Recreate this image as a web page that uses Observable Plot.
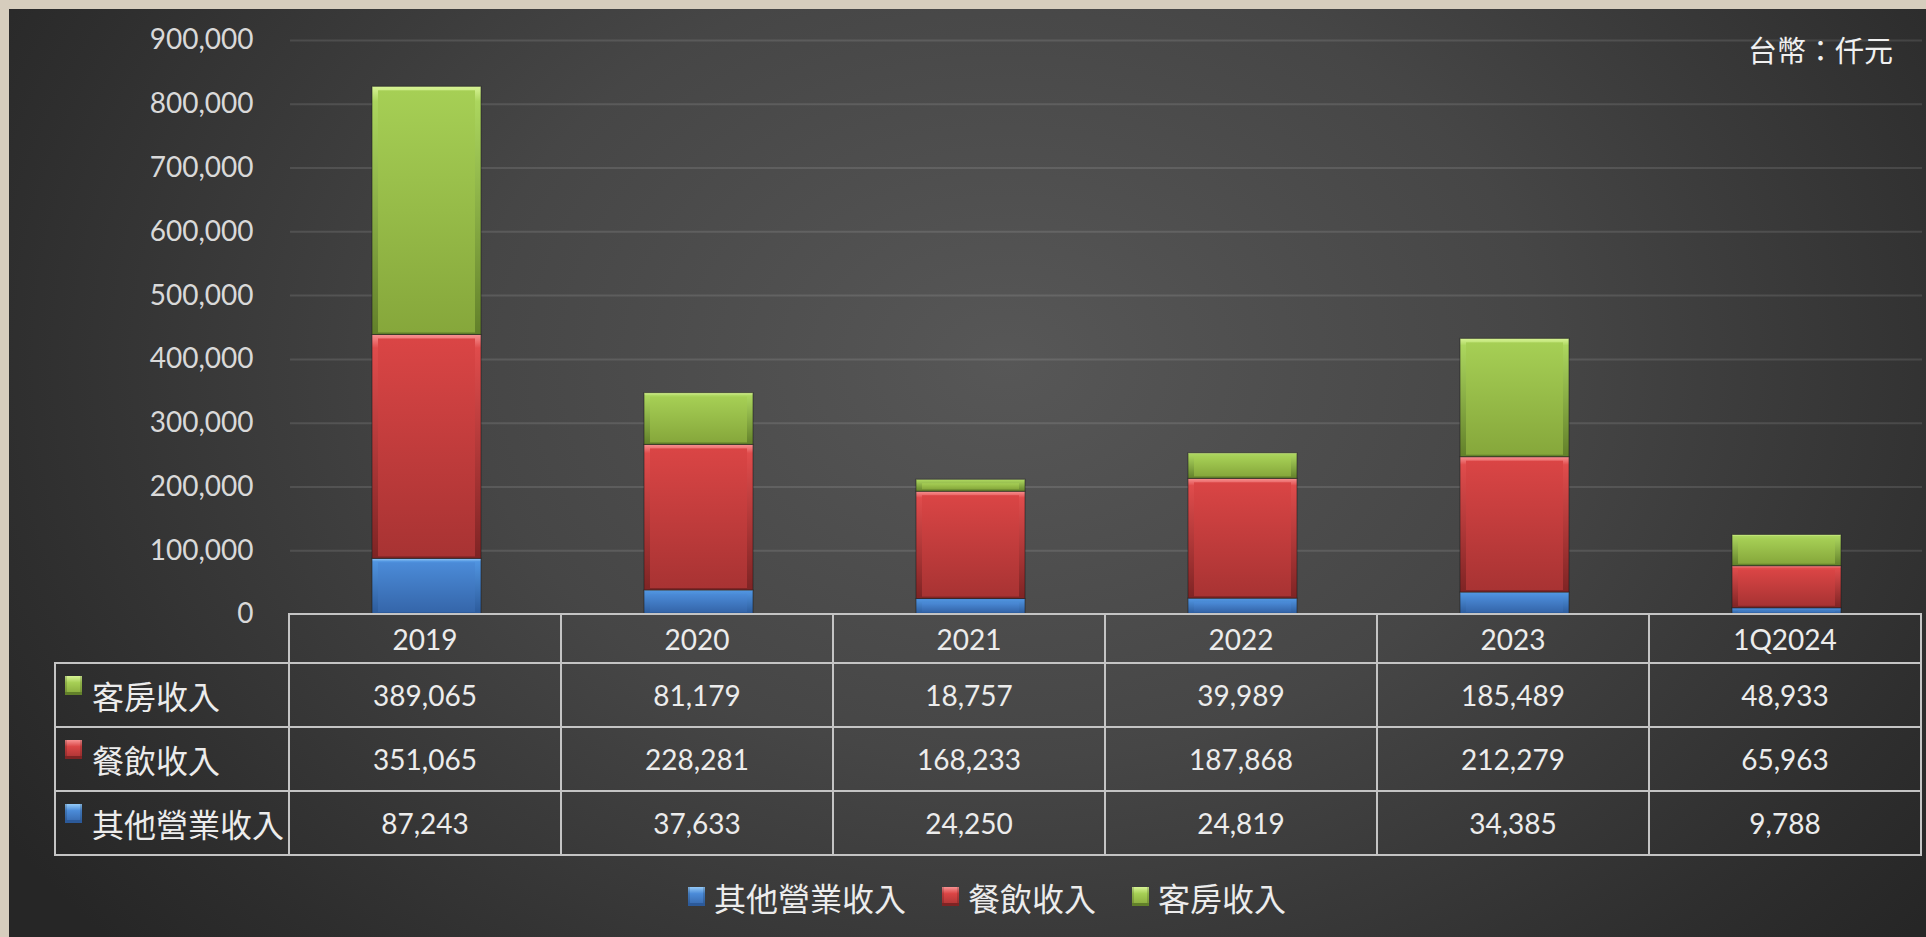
<!DOCTYPE html>
<html>
<head>
<meta charset="utf-8">
<script src="https://cdn.jsdelivr.net/npm/d3@7"></script>
<script src="https://cdn.jsdelivr.net/npm/@observablehq/plot@0.6"></script>
<style>
  html, body { margin: 0; padding: 0; }
  body { width: 1926px; height: 937px; background: #d6cdbd; position: relative; overflow: hidden; font-family: Lato, "Noto Sans CJK TC", sans-serif; }
  #frame { position: absolute; left: 9px; top: 9px; width: 1917px; height: 928px;
    background: radial-gradient(ellipse 62% 95% at 52% 38%, #575757 0%, #464646 45%, #2e2e2e 85%, #262626 100%); }
  #chart { position: absolute; left: 0; top: 0; }
  #unit { position: absolute; right: 33px; top: 29px; font-family: "Noto Sans CJK TC", sans-serif; font-size: 29px; color: #f0f0f0; line-height: 40px; }
  #table { position: absolute; left: 54px; top: 613px; display: grid;
    grid-template-columns: 236px repeat(6, 272px); grid-template-rows: 51px 64px 64px 64px; }
  .cell { box-sizing: border-box; border-right: 2px solid #c4c4c4; border-bottom: 2px solid #c4c4c4;
    display: flex; align-items: center; justify-content: center; color: #ececec; font-family: Lato, sans-serif; font-size: 28px; }
  .hdr { border-top: 2px solid #c4c4c4; }
  .corner { border-bottom: 2px solid #c4c4c4; border-right: 2px solid #c4c4c4; }
  .lab { border-left: 2px solid #c4c4c4; justify-content: flex-start; position: relative;
    font-family: "Noto Sans CJK TC", sans-serif; font-size: 32px; padding-left: 36px; white-space: nowrap; }
  .mk { position: absolute; width: 17px; height: 19px; box-sizing: border-box; }
  .lab .mk { left: 9px; top: 12px; }
  #legend { position: absolute; left: 688px; top: 876px; display: flex; align-items: center;
    font-family: "Noto Sans CJK TC", sans-serif; font-size: 32px; color: #ececec; line-height: 42px; white-space: nowrap; }
  #legend .item { display: flex; align-items: center; margin-right: 36px; }
  #legend .mk { position: relative; margin-right: 9px; top: -1px; }
</style>
</head>
<body>
<div id="frame"></div>
<div id="chart"></div>
<div id="unit"></div>
<div id="table"></div>
<div id="legend"></div>
<script>
// ---- data ----
const categories = ["2019", "2020", "2021", "2022", "2023", "1Q2024"];
const seriesNames = ["其他營業收入", "餐飲收入", "客房收入"];
const otherRevenue = [87243, 37633, 24250, 24819, 34385, 9788];
const foodRevenue = [351065, 228281, 168233, 187868, 212279, 65963];
const roomRevenue = [389065, 81179, 18757, 39989, 185489, 48933];
const yTicks = [0, 100000, 200000, 300000, 400000, 500000, 600000, 700000, 800000, 900000];
const unitLabel = "台幣：仟元";
const tableOrder = ["客房收入", "餐飲收入", "其他營業收入"];

// ---- styling ----
const palette = {
  "其他營業收入": { outer: ["#94caf8", "#5094e0", "#2c5a9a"], face: ["#4b8bd8", "#3566aa"] },
  "餐飲收入":     { outer: ["#f89292", "#e04c4c", "#7e2424"], face: ["#da4545", "#a83333"] },
  "客房收入":     { outer: ["#d8f496", "#acd65e", "#62802a"], face: ["#a6cf55", "#86a73b"] }
};

const valuesBySeries = { "其他營業收入": otherRevenue, "餐飲收入": foodRevenue, "客房收入": roomRevenue };
const data = seriesNames.flatMap(s => categories.map((c, i) => ({ category: c, series: s, value: valuesBySeries[s][i] })));

const gid = (s, kind) => `g${seriesNames.indexOf(s)}${kind}`;

const chart = Plot.plot({
  width: 1926,
  height: 620,
  marginLeft: 290,
  marginRight: 4,
  marginTop: 40,
  marginBottom: 6,
  style: { background: "transparent", color: "#d9d9d9", fontFamily: "Lato, sans-serif", overflow: "visible" },
  x: { domain: categories, paddingInner: 0.6, paddingOuter: 0.3, axis: null },
  y: { domain: [0, 900000], axis: null },
  color: {
    domain: [...seriesNames, ...seriesNames.map(s => s + "·face")],
    range: [...seriesNames.map(s => `url(#${gid(s, "o")})`), ...seriesNames.map(s => `url(#${gid(s, "f")})`)]
  },
  marks: [
    Plot.gridY(yTicks.slice(1), { stroke: "#ffffff", strokeOpacity: 0.11, strokeWidth: 2 }),
    Plot.axisY(yTicks, { label: null, tickSize: 0, tickPadding: 37, tickFormat: d3.format(","), fontSize: 28, fill: "#d9d9d9" }),
    Plot.barY(data, Plot.stackY({ x: "category", y: "value", z: "series", fill: "series", stroke: "#1c1c1c", strokeOpacity: 0.55, strokeWidth: 1 })),
    Plot.barY(data, Plot.stackY({ x: "category", y: "value", z: "series", fill: d => d.series + "·face", insetLeft: 6, insetRight: 6, insetTop: 4, insetBottom: 2 }))
  ]
});

// gradient definitions used by the color scale range
const svg = d3.select(chart);
const defs = svg.insert("defs", ":first-child");
seriesNames.forEach(s => {
  const p = palette[s];
  const go = defs.append("linearGradient").attr("id", gid(s, "o")).attr("x1", 0).attr("y1", 0).attr("x2", 0).attr("y2", 1);
  go.append("stop").attr("offset", "0").attr("stop-color", p.outer[0]);
  go.append("stop").attr("offset", "0.06").attr("stop-color", p.outer[1]);
  go.append("stop").attr("offset", "1").attr("stop-color", p.outer[2]);
  const gf = defs.append("linearGradient").attr("id", gid(s, "f")).attr("x1", 0).attr("y1", 0).attr("x2", 0).attr("y2", 1);
  gf.append("stop").attr("offset", "0").attr("stop-color", p.face[0]);
  gf.append("stop").attr("offset", "1").attr("stop-color", p.face[1]);
});
document.getElementById("chart").appendChild(chart);

document.getElementById("unit").textContent = unitLabel;

// marker square
function marker(s) {
  const p = palette[s];
  const m = document.createElement("div");
  m.className = "mk";
  m.style.background = `linear-gradient(to bottom, ${p.outer[0]} 0%, ${p.face[0]} 35%, ${p.face[1]} 100%)`;
  m.style.boxShadow = `inset 0 -3px 0 ${p.outer[2]}, inset 2px 0 0 rgba(0,0,0,0.15), inset -2px 0 0 rgba(0,0,0,0.15)`;
  return m;
}

// data table
const table = document.getElementById("table");
const fmt = d3.format(",");
const corner = document.createElement("div");
corner.className = "cell corner";
table.appendChild(corner);
categories.forEach(c => {
  const d = document.createElement("div");
  d.className = "cell hdr";
  d.textContent = c;
  table.appendChild(d);
});
tableOrder.forEach(s => {
  const l = document.createElement("div");
  l.className = "cell lab";
  l.appendChild(marker(s));
  l.appendChild(document.createTextNode(s));
  table.appendChild(l);
  valuesBySeries[s].forEach(v => {
    const d = document.createElement("div");
    d.className = "cell";
    d.textContent = fmt(v);
    table.appendChild(d);
  });
});

// legend
const legend = document.getElementById("legend");
seriesNames.forEach(s => {
  const it = document.createElement("div");
  it.className = "item";
  it.appendChild(marker(s));
  const t = document.createElement("span");
  t.textContent = s;
  it.appendChild(t);
  legend.appendChild(it);
});
</script>
</body>
</html>
